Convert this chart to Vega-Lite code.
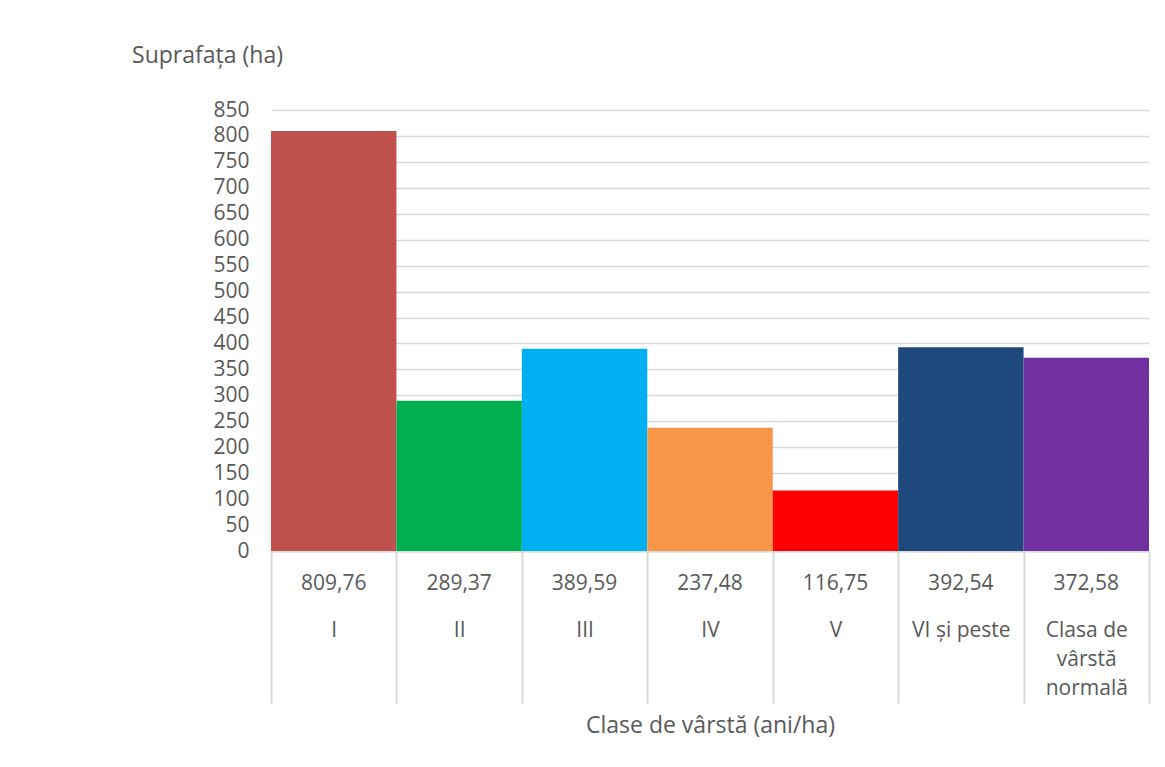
{
  "$schema": "https://vega.github.io/schema/vega-lite/v6.json",
  "autosize": {"type": "none"},
  "width": 878,
  "height": 441,
  "padding": {"left": 271, "top": 110, "right": 16, "bottom": 216},
  "background": "white",
  "config": {
    "view": {"stroke": null},
    "font": "Open Sans",
    "locale": {"number": {"decimal": ",", "thousands": ".", "grouping": [3], "currency": ["", ""]}},
    "axisY": {
      "titleAngle": 0,
      "titleX": -64,
      "titleY": -55,
      "titleAlign": "center",
      "titleBaseline": "middle",
      "titleFont": "Open Sans",
      "titleFontSize": 23,
      "titleFontWeight": "normal",
      "titleColor": "#595959",
      "labelFont": "Open Sans",
      "labelFontSize": 21,
      "labelColor": "#595959",
      "labelPadding": 22,
      "labelOverlap": false,
      "labelBound": false,
      "labelFlush": false,
      "ticks": false,
      "domain": false,
      "grid": true,
      "gridColor": "#d9d9d9",
      "gridWidth": 1.5
    }
  },
  "data": {
    "values": [
      {"clasa": "I", "suprafata": 809.76},
      {"clasa": "II", "suprafata": 289.37},
      {"clasa": "III", "suprafata": 389.59},
      {"clasa": "IV", "suprafata": 237.48},
      {"clasa": "V", "suprafata": 116.75},
      {"clasa": "VI și peste", "suprafata": 392.54},
      {"clasa": "Clasa de|vârstă|normală", "suprafata": 372.58}
    ]
  },
  "encoding": {
    "x": {
      "field": "clasa",
      "type": "nominal",
      "sort": null,
      "scale": {"paddingInner": 0, "paddingOuter": 0},
      "axis": {
        "title": "Clase de vârstă (ani/ha)",
        "titleFont": "Open Sans",
        "titleFontSize": 23,
        "titleFontWeight": "normal",
        "titleColor": "#595959",
        "titleY": 174,
        "titleBaseline": "middle",
        "labelAngle": 0,
        "labelExpr": "split(datum.label, '|')",
        "labelFont": "Open Sans",
        "labelFontSize": 21,
        "labelColor": "#595959",
        "labelLineHeight": 29,
        "labelPadding": -84,
        "labelOverlap": false,
        "labelBound": false,
        "labelLimit": 0,
        "tickBand": "extent",
        "tickSize": 152,
        "tickWidth": 2,
        "tickColor": "#d9d9d9",
        "domainColor": "#d9d9d9",
        "domainWidth": 2
      }
    }
  },
  "layer": [
    {
      "mark": {"type": "bar"},
      "encoding": {
        "y": {
          "field": "suprafata",
          "type": "quantitative",
          "scale": {"domain": [0, 850], "nice": false},
          "axis": {
            "title": "Suprafața (ha)",
            "values": [0, 50, 100, 150, 200, 250, 300, 350, 400, 450, 500, 550, 600, 650, 700, 750, 800, 850],
            "format": "d"
          }
        },
        "color": {
          "field": "clasa",
          "type": "nominal",
          "sort": null,
          "scale": {"range": ["#C0504D", "#00B050", "#00B0F0", "#F79646", "#FF0000", "#1F497D", "#7030A0"]},
          "legend": null
        }
      }
    },
    {
      "mark": {"type": "text", "baseline": "middle", "align": "center", "dy": 33, "fontSize": 21, "font": "Open Sans", "color": "#595959"},
      "encoding": {
        "y": {
          "datum": 0,
          "type": "quantitative",
          "scale": {"domain": [0, 850], "nice": false},
          "axis": {
            "title": "Suprafața (ha)",
            "values": [0, 50, 100, 150, 200, 250, 300, 350, 400, 450, 500, 550, 600, 650, 700, 750, 800, 850],
            "format": "d"
          }
        },
        "text": {"field": "suprafata", "type": "quantitative", "format": ".2f"}
      }
    }
  ]
}
